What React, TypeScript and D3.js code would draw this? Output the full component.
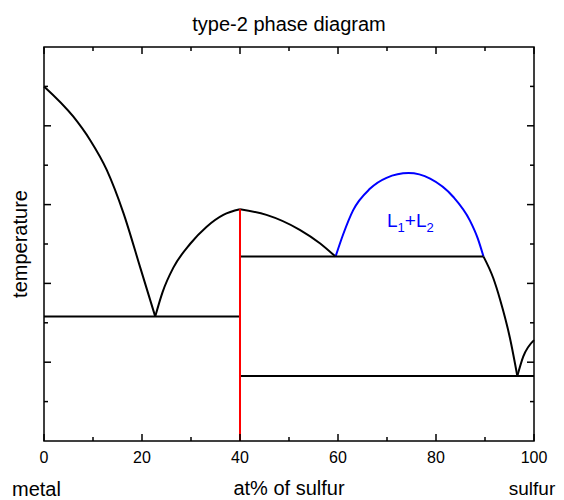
import * as d3 from 'd3';
import React, { useRef, useEffect } from 'react';

// composition (at% S) vs temperature (arbitrary units, 0-10)
const xMajorTicks = [0, 20, 40, 60, 80, 100];
const xMinorTicks = [10, 30, 50, 70, 90];
const yMajorTicks = [2, 4, 6, 8];
const yMinorTicks = [1, 3, 5, 7, 9];

const metalLiquidus: [number, number][] = [
    [0, 9], [6, 8.23], [9.4, 7.64], [12.8, 6.88], [16.2, 5.79], [19.6, 4.42], [22.7, 3.16],
];
const compoundLeft: [number, number][] = [
    [22.7, 3.16], [24.2, 3.78], [26.4, 4.4], [29.8, 5.0], [33.2, 5.44], [36.6, 5.74], [40, 5.88],
];
const compoundRight: [number, number][] = [
    [40, 5.88], [45.4, 5.74], [52.2, 5.36], [56.3, 5.02], [59.5, 4.68],
];
const miscibilityGap: [number, number][] = [
    [59.5, 4.68], [61.1, 5.26], [63.1, 5.86], [66.5, 6.4], [69.9, 6.68], [74.4, 6.8],
    [78.8, 6.66], [83.5, 6.2], [86.9, 5.6], [88.5, 5.15], [89.7, 4.68],
];
const sulfurLiquidus: [number, number][] = [
    [89.7, 4.68], [91.7, 4.13], [93.1, 3.58], [95.1, 2.61], [96.6, 1.65],
];
const sulfurSide: [number, number][] = [
    [96.6, 1.65], [97.8, 2.14], [100, 2.56],
];

// horizontal invariant lines [x0, x1, T]
const isotherms: [number, number, number][] = [
    [0, 40, 3.16],
    [40, 89.7, 4.68],
    [40, 100, 1.65],
];
const compound = { x: 40, tMelt: 5.88 };
const gapLabel = { x: 70, t: 5.43 };

const App = () => {
    const svgRef = useRef<SVGSVGElement>(null);

    useEffect(() => {
        const svg = d3.select(svgRef.current);
        svg.selectAll('*').remove();

        const margin = { left: 44, top: 47, right: 30, bottom: 59 };
        const width = 564;
        const height = 500;
        const font = '"Liberation Sans", Arial, sans-serif';

        const x = d3.scaleLinear().domain([0, 100]).range([margin.left, width - margin.right]);
        const y = d3.scaleLinear().domain([0, 10]).range([height - margin.bottom, margin.top]);

        const g = svg.append('g');

        const monoLine = d3.line<[number, number]>()
            .x((d) => x(d[0]))
            .y((d) => y(d[1]))
            .curve(d3.curveMonotoneX);

        [metalLiquidus, compoundLeft, compoundRight, sulfurLiquidus, sulfurSide].forEach((pts) => {
            g.append('path')
                .attr('d', monoLine(pts))
                .attr('fill', 'none')
                .attr('stroke', '#000')
                .attr('stroke-width', 2);
        });

        g.append('path')
            .attr('d', monoLine(miscibilityGap))
            .attr('fill', 'none')
            .attr('stroke', '#0000ff')
            .attr('stroke-width', 2);

        isotherms.forEach(([x0, x1, t]) => {
            g.append('line')
                .attr('x1', x(x0)).attr('x2', x(x1))
                .attr('y1', y(t)).attr('y2', y(t))
                .attr('stroke', '#000')
                .attr('stroke-width', 2);
        });

        g.append('line')
            .attr('x1', x(compound.x)).attr('x2', x(compound.x))
            .attr('y1', y(0)).attr('y2', y(compound.tMelt))
            .attr('stroke', '#ff0000')
            .attr('stroke-width', 2);

        // frame + ticks
        const axes = svg.append('g').attr('stroke', '#000').attr('stroke-width', 1.5);
        axes.append('rect')
            .attr('x', x(0)).attr('y', y(10))
            .attr('width', x(100) - x(0)).attr('height', y(0) - y(10))
            .attr('fill', 'none');

        const addXTicks = (vals: number[], len: number) => {
            vals.forEach((v) => {
                axes.append('line').attr('x1', x(v)).attr('x2', x(v)).attr('y1', y(0)).attr('y2', y(0) - len);
                axes.append('line').attr('x1', x(v)).attr('x2', x(v)).attr('y1', y(10)).attr('y2', y(10) + len);
            });
        };
        const addYTicks = (vals: number[], len: number) => {
            vals.forEach((v) => {
                axes.append('line').attr('x1', x(0)).attr('x2', x(0) + len).attr('y1', y(v)).attr('y2', y(v));
                axes.append('line').attr('x1', x(100)).attr('x2', x(100) - len).attr('y1', y(v)).attr('y2', y(v));
            });
        };
        addXTicks(xMajorTicks, 7);
        addXTicks(xMinorTicks, 4);
        addYTicks(yMajorTicks, 7);
        addYTicks(yMinorTicks, 4);

        const txt = svg.append('g').attr('font-family', font).attr('fill', '#000');

        txt.selectAll('text.tick')
            .data(xMajorTicks)
            .join('text')
            .attr('class', 'tick')
            .attr('x', (d) => x(d))
            .attr('y', y(0) + 22)
            .attr('text-anchor', 'middle')
            .attr('font-size', 16)
            .text((d) => d);

        txt.append('text')
            .attr('x', (x(0) + x(100)) / 2).attr('y', 31)
            .attr('text-anchor', 'middle').attr('font-size', 20)
            .text('type-2 phase diagram');

        txt.append('text')
            .attr('x', (x(0) + x(100)) / 2).attr('y', 495)
            .attr('text-anchor', 'middle').attr('font-size', 20)
            .text('at% of sulfur');

        txt.append('text')
            .attr('x', 12).attr('y', 496)
            .attr('font-size', 20)
            .text('metal');

        txt.append('text')
            .attr('x', 532).attr('y', 495)
            .attr('text-anchor', 'middle').attr('font-size', 19)
            .text('sulfur');

        txt.append('text')
            .attr('transform', `translate(27, ${(y(0) + y(10)) / 2}) rotate(-90)`)
            .attr('text-anchor', 'middle').attr('font-size', 20)
            .text('temperature');

        const lbl = txt.append('text')
            .attr('x', x(gapLabel.x)).attr('y', y(gapLabel.t))
            .attr('fill', '#0000ff')
            .attr('font-size', 19);
        lbl.append('tspan').text('L');
        lbl.append('tspan').attr('font-size', 13).attr('dy', 5).text('1');
        lbl.append('tspan').attr('dy', -5).text('+L');
        lbl.append('tspan').attr('font-size', 13).attr('dy', 5).text('2');
    }, []);

    return (
        <>
            <svg
                ref={svgRef}
                width={564}
                height={500}
                style={{ position: 'absolute', left: 0, top: 0 }}
            />
        </>
    );
};
export default App;
